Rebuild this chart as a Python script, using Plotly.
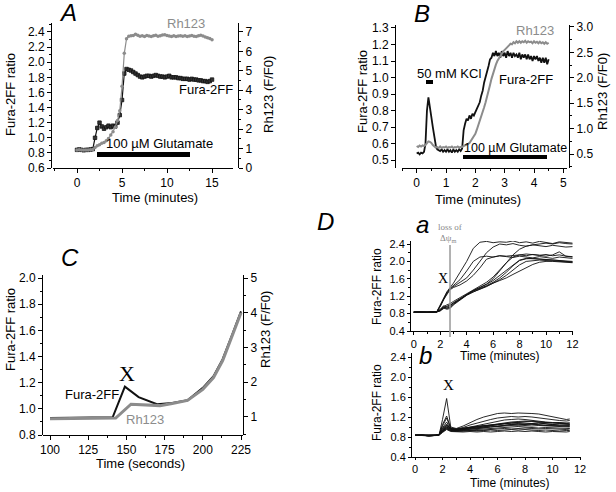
import plotly.graph_objects as go

W, H = 616, 492
def fx(p): return p / W
def fy(p): return 1 - p / H

# ---------------- Panel A data ----------------
A_t = [i * 0.25 for i in range(61)]
A_fura = [0.84, 0.845, 0.84, 0.835, 0.84, 0.84, 0.845, 0.85, 1.0, 1.13, 1.2, 1.15,
          1.12, 1.14, 1.16, 1.14, 1.16, 1.15, 1.2, 1.3, 1.5, 1.85, 1.91, 1.9,
          1.89, 1.87, 1.85, 1.83, 1.81, 1.8, 1.81, 1.82, 1.82, 1.81, 1.82, 1.83,
          1.82, 1.81, 1.81, 1.80, 1.81, 1.82, 1.80, 1.80, 1.80, 1.79, 1.79, 1.78,
          1.78, 1.78, 1.77, 1.78, 1.77, 1.77, 1.76, 1.76, 1.75, 1.75, 1.74, 1.75, 1.77]
A_rh = [0.93, 0.94, 0.93, 0.92, 0.93, 0.93, 0.94, 0.95, 1.05, 1.15, 1.2, 1.27,
        1.31, 1.4, 1.52, 1.7, 1.87, 2.1, 2.45, 2.95, 4.2, 5.9, 6.65, 6.78,
        6.8, 6.82, 6.88, 6.83, 6.78, 6.8, 6.77, 6.82, 6.79, 6.76, 6.8, 6.83,
        6.78, 6.8, 6.84, 6.86, 6.82, 6.79, 6.77, 6.8, 6.76, 6.79, 6.81, 6.78,
        6.8, 6.76, 6.79, 6.82, 6.78, 6.76, 6.8, 6.83, 6.79, 6.74, 6.7, 6.66, 6.6]

# ---------------- Panel B data ----------------
B_t = [round(i * 0.05, 2) for i in range(91)]
B_fura = [0.54, 0.545, 0.535, 0.545, 0.54, 0.55, 0.60, 0.80, 0.88, 0.83,
          0.76, 0.70, 0.64, 0.59, 0.565, 0.56, 0.555, 0.565, 0.55, 0.56,
          0.55, 0.565, 0.55, 0.56, 0.545, 0.565, 0.55, 0.56, 0.55, 0.565,
          0.555, 0.57, 0.68, 0.72, 0.75, 0.74, 0.77, 0.75, 0.78, 0.77,
          0.79, 0.80, 0.83, 0.85, 0.89, 0.92, 0.97, 1.00, 1.04, 1.07,
          1.11, 1.12, 1.15, 1.13, 1.16, 1.13, 1.15, 1.12, 1.16, 1.13,
          1.15, 1.12, 1.16, 1.13, 1.15, 1.12, 1.15, 1.13, 1.14, 1.12,
          1.15, 1.11, 1.14, 1.12, 1.14, 1.11, 1.14, 1.11, 1.13, 1.10,
          1.13, 1.11, 1.13, 1.10, 1.12, 1.09, 1.12, 1.09, 1.12, 1.08, 1.11]
B_rh = [0.66, 0.64, 0.67, 0.65, 0.67, 0.66, 0.68, 0.72, 0.75, 0.74,
        0.72, 0.68, 0.65, 0.63, 0.64, 0.62, 0.65, 0.62, 0.64, 0.63,
        0.65, 0.62, 0.64, 0.63, 0.65, 0.62, 0.64, 0.63, 0.65, 0.63,
        0.64, 0.64, 0.66, 0.67, 0.69, 0.70, 0.72, 0.76, 0.80, 0.85,
        0.90, 0.98, 1.06, 1.14, 1.23, 1.32, 1.42, 1.52, 1.62, 1.74,
        1.86, 1.98, 2.09, 2.17, 2.26, 2.33, 2.38, 2.43, 2.47, 2.52,
        2.55, 2.58, 2.62, 2.63, 2.67, 2.66, 2.70, 2.68, 2.72, 2.69,
        2.72, 2.69, 2.72, 2.70, 2.73, 2.69, 2.72, 2.70, 2.71, 2.68,
        2.72, 2.69, 2.71, 2.68, 2.71, 2.68, 2.70, 2.67, 2.70, 2.67, 2.69]

# ---------------- Panel C data ----------------
C_t_fura = [100, 141, 149, 158, 170, 180, 190, 200, 207, 213, 219, 225]
C_fura = [0.93, 0.935, 1.17, 1.09, 1.035, 1.045, 1.065, 1.16, 1.25, 1.38, 1.56, 1.745]
C_t_rh = [100, 143, 153, 172, 180, 190, 200, 207, 213, 219, 225]
C_rh = [0.94, 0.96, 1.36, 1.32, 1.38, 1.47, 1.79, 2.13, 2.62, 3.30, 4.0]

# ---------------- Panel D a data ----------------
Da_t = [0, 0.5, 1, 1.5, 1.75, 2, 2.25, 2.5, 2.75, 3, 3.5, 4, 4.5, 5, 5.5, 6, 6.5,
        7, 7.5, 8, 8.5, 9, 9.5, 10, 10.5, 11, 11.5, 12]
Da_traces = [
    [0.83,0.84,0.83,0.83,0.85,1.0,1.18,1.3,1.4,1.5,1.75,2.0,2.3,2.44,2.46,2.43,2.45,2.44,2.47,2.43,2.45,2.42,2.46,2.44,2.41,2.45,2.43,2.42],
    [0.83,0.83,0.84,0.83,0.84,0.98,1.15,1.28,1.38,1.45,1.58,1.78,2.0,2.1,2.12,2.1,2.13,2.11,2.09,2.12,2.1,2.08,2.11,2.09,2.07,2.1,2.08,2.07],
    [0.84,0.83,0.83,0.84,0.84,0.97,1.13,1.26,1.37,1.42,1.52,1.62,1.8,2.0,2.2,2.33,2.4,2.38,2.41,2.37,2.35,2.38,2.36,2.34,2.37,2.35,2.33,2.34],
    [0.83,0.84,0.83,0.83,0.85,0.96,1.12,1.25,1.35,1.4,1.46,1.55,1.68,1.85,2.05,2.1,2.13,2.12,2.14,2.15,2.13,2.16,2.14,2.12,2.15,2.22,2.12,2.1],
    [0.83,0.83,0.84,0.83,0.84,0.9,0.98,0.95,0.98,1.05,1.15,1.25,1.33,1.4,1.47,1.56,1.68,1.8,1.93,2.03,2.07,2.06,2.05,2.04,2.03,2.02,2.01,2.0],
    [0.84,0.83,0.83,0.84,0.84,0.88,0.95,0.93,0.94,1.02,1.14,1.24,1.32,1.38,1.44,1.52,1.62,1.75,1.9,2.02,2.06,2.07,2.06,2.04,2.03,2.02,2.0,1.99],
    [0.83,0.84,0.83,0.83,0.84,0.87,0.93,0.9,0.92,1.0,1.12,1.22,1.3,1.36,1.42,1.5,1.58,1.68,1.8,1.92,2.0,2.02,2.03,2.02,2.01,2.0,2.0,1.98],
    [0.83,0.83,0.84,0.83,0.84,0.86,0.92,0.97,1.0,1.04,1.13,1.23,1.3,1.37,1.43,1.5,1.56,1.62,1.7,1.78,1.86,1.93,1.98,2.0,2.0,1.99,1.98,1.97],
    [0.84,0.83,0.83,0.84,0.84,0.89,0.96,1.0,1.03,1.08,1.17,1.26,1.34,1.42,1.52,1.64,1.8,1.97,2.1,2.15,2.17,2.15,2.14,2.16,2.13,2.15,2.12,2.11],
    [0.83,0.84,0.83,0.83,0.84,0.87,0.94,0.92,0.95,1.02,1.13,1.24,1.33,1.4,1.48,1.6,1.78,1.98,2.15,2.28,2.35,2.38,2.4,2.42,2.4,2.43,2.41,2.4],
]

# ---------------- Panel D b data ----------------
Db_t = [0, 0.5, 1, 1.5, 1.75, 2, 2.3, 2.6, 3, 3.5, 4, 4.5, 5, 5.5, 6, 6.5, 7, 7.5,
        8, 8.5, 9, 9.5, 10, 10.5, 11, 11.25]
Db_traces = [
    [0.83,0.84,0.82,0.83,0.84,1.15,1.57,1.0,0.97,1.02,1.09,1.15,1.2,1.24,1.27,1.28,1.27,1.28,1.28,1.27,1.26,1.23,1.2,1.18,1.15,1.16],
    [0.83,0.83,0.83,0.83,0.85,1.05,1.22,0.98,0.96,0.99,1.04,1.08,1.12,1.15,1.18,1.2,1.21,1.2,1.21,1.2,1.18,1.17,1.15,1.13,1.12,1.13],
    [0.84,0.83,0.82,0.83,0.84,1.02,1.18,0.97,0.95,0.97,1.0,1.03,1.06,1.09,1.12,1.14,1.15,1.16,1.15,1.13,1.12,1.1,1.09,1.08,1.07,1.08],
    [0.83,0.84,0.83,0.84,0.84,0.98,1.1,0.96,0.94,0.96,0.98,1.0,1.03,1.05,1.07,1.09,1.1,1.11,1.12,1.11,1.1,1.08,1.07,1.06,1.05,1.06],
    [0.84,0.83,0.83,0.83,0.85,0.97,1.06,0.95,0.93,0.95,0.97,0.99,1.01,1.03,1.05,1.06,1.08,1.09,1.08,1.07,1.08,1.06,1.05,1.04,1.03,1.04],
    [0.83,0.83,0.82,0.83,0.84,0.95,1.04,0.97,0.96,0.98,1.0,1.02,1.03,1.04,1.06,1.07,1.06,1.07,1.06,1.05,1.04,1.03,1.02,1.01,1.0,1.01],
    [0.84,0.84,0.83,0.83,0.84,0.94,1.02,0.94,0.93,0.94,0.95,0.97,0.98,1.0,1.01,1.02,1.03,1.04,1.03,1.02,1.03,1.02,1.01,1.0,0.99,1.0],
    [0.83,0.83,0.83,0.84,0.84,0.93,1.0,0.95,0.94,0.95,0.96,0.97,0.99,1.0,1.02,1.04,1.05,1.06,1.05,1.06,1.04,1.03,1.04,1.03,1.02,1.03],
    [0.83,0.84,0.82,0.83,0.84,0.92,0.98,0.93,0.92,0.93,0.94,0.95,0.96,0.97,0.98,0.99,1.0,1.01,1.0,0.99,0.98,0.99,0.98,0.97,0.96,0.97],
    [0.84,0.83,0.83,0.83,0.84,0.91,0.97,0.92,0.91,0.92,0.92,0.93,0.94,0.95,0.96,0.97,0.96,0.97,0.98,0.97,0.96,0.97,0.96,0.95,0.95,0.96],
    [0.83,0.83,0.83,0.84,0.84,0.9,0.96,0.93,0.92,0.92,0.93,0.92,0.93,0.94,0.93,0.94,0.95,0.94,0.95,0.94,0.93,0.94,0.93,0.92,0.93,0.93],
    [0.83,0.84,0.82,0.83,0.84,0.89,0.95,0.91,0.9,0.9,0.91,0.9,0.91,0.9,0.91,0.92,0.91,0.92,0.91,0.92,0.91,0.9,0.91,0.9,0.9,0.91],
    [0.84,0.83,0.83,0.83,0.84,0.9,1.0,0.94,0.95,0.97,0.99,1.01,1.02,1.03,1.05,1.07,1.08,1.1,1.11,1.12,1.1,1.09,1.08,1.09,1.07,1.08],
    [0.83,0.83,0.83,0.84,0.84,0.92,1.03,0.96,0.94,0.96,0.99,0.98,1.0,1.02,1.01,1.03,1.05,1.04,1.06,1.07,1.08,1.06,1.05,1.07,1.06,1.05],
]

BLACK = "#111111"
GRAY = "#8c8c8c"
SANS = "Liberation Sans, Arial, sans-serif"
SERIF = "Liberation Serif, Times New Roman, serif"

fig = go.Figure()

# A
fig.add_trace(go.Scatter(x=A_t, y=A_rh, xaxis="x", yaxis="y2", mode="lines+markers",
                         line=dict(color=GRAY, width=1.2), marker=dict(color=GRAY, size=3.5, symbol="circle"),
                         showlegend=False))
fig.add_trace(go.Scatter(x=A_t, y=A_fura, xaxis="x", yaxis="y", mode="lines+markers",
                         line=dict(color=BLACK, width=1.2), marker=dict(color="#333", size=3.5, symbol="square",
                                                                       line=dict(color=BLACK, width=0.8)),
                         showlegend=False))
# B
fig.add_trace(go.Scatter(x=B_t, y=B_rh, xaxis="x2", yaxis="y4", mode="lines",
                         line=dict(color=GRAY, width=2), showlegend=False))
fig.add_trace(go.Scatter(x=B_t, y=B_fura, xaxis="x2", yaxis="y3", mode="lines",
                         line=dict(color=BLACK, width=1.8), showlegend=False))
# C
fig.add_trace(go.Scatter(x=C_t_rh, y=C_rh, xaxis="x3", yaxis="y6", mode="lines",
                         line=dict(color=GRAY, width=3), showlegend=False))
fig.add_trace(go.Scatter(x=C_t_fura, y=C_fura, xaxis="x3", yaxis="y5", mode="lines",
                         line=dict(color=BLACK, width=2), showlegend=False))
# D a
for tr in Da_traces:
    fig.add_trace(go.Scatter(x=Da_t, y=tr, xaxis="x4", yaxis="y7", mode="lines",
                             line=dict(color=BLACK, width=0.9), showlegend=False))
# D b
for tr in Db_traces:
    fig.add_trace(go.Scatter(x=Db_t, y=tr, xaxis="x5", yaxis="y8", mode="lines",
                             line=dict(color=BLACK, width=0.9), showlegend=False))

tickfont = dict(family=SANS, size=12, color="black")
tickfont_d = dict(family=SANS, size=11, color="black")

def ax(**kw):
    base = dict(showline=True, linecolor="black", linewidth=1, ticks="outside", ticklen=4,
                tickcolor="black", showgrid=False, zeroline=False, tickfont=tickfont)
    base.update(kw)
    return base

def minor(d, ln=2):
    return dict(ticks="outside", ticklen=ln, dtick=d, tickcolor="black", showgrid=False)

fig.update_layout(
    width=W, height=H, margin=dict(l=0, r=0, t=0, b=0, autoexpand=False),
    paper_bgcolor="white", plot_bgcolor="rgba(0,0,0,0)",
    # ---- A ----
    xaxis=ax(domain=[fx(53), fx(233)], range=[-2.67, 17.33], anchor="y", tick0=0, dtick=5, minor=minor(2.5)),
    yaxis=ax(domain=[fy(168), fy(23)], range=[0.6, 2.519], anchor="free", position=fx(51),
             tick0=0.6, dtick=0.2, tickformat=".1f", minor=minor(0.1)),
    yaxis2=ax(domain=[fy(168), fy(23)], range=[0, 7.46], anchor="free", position=fx(238), side="right",
              overlaying="y", tick0=0, dtick=1, minor=minor(0.5)),
    # ---- B ----
    xaxis2=ax(domain=[fx(402), fx(567)], range=[-0.501, 5.125], anchor="y3", tick0=0, dtick=1, minor=minor(0.5)),
    yaxis3=ax(domain=[fy(168), fy(25)], range=[0.452, 1.318], anchor="free", position=fx(395),
              tick0=0.5, dtick=0.1, tickformat=".1f"),
    yaxis4=ax(domain=[fy(168), fy(25)], range=[0.227, 3.039], anchor="free", position=fx(569), side="right",
              overlaying="y3", tick0=0.5, dtick=0.5, tickformat=".1f", minor=minor(0.25)),
    # ---- C ----
    xaxis3=ax(domain=[fx(43), fx(243)], range=[95.42, 226.3], anchor="y5", tick0=100, dtick=25, minor=minor(12.5)),
    yaxis5=ax(domain=[fy(435), fy(275)], range=[0.80, 2.023], anchor="free", position=fx(42),
              tick0=0.8, dtick=0.2, tickformat=".1f", minor=minor(0.1)),
    yaxis6=ax(domain=[fy(435), fy(275)], range=[0.472, 5.09], anchor="free", position=fx(243), side="right",
              overlaying="y5", tick0=1, dtick=1, minor=minor(0.5)),
    # ---- D a ----
    xaxis4=ax(domain=[fx(411), fx(573)], range=[-0.21, 12.04], anchor="y7", tick0=0, dtick=2,
              minor=minor(1), tickfont=tickfont_d, ticklen=3),
    yaxis7=ax(domain=[fy(331), fy(241)], range=[0.4, 2.469], anchor="x4", tick0=0.4, dtick=0.4,
              tickformat=".1f", minor=minor(0.2), tickfont=tickfont_d, ticklen=3),
    # ---- D b ----
    xaxis5=ax(domain=[fx(412), fx(581)], range=[-0.218, 12.07], anchor="y8", tick0=0, dtick=2,
              minor=minor(1), tickfont=tickfont_d, ticklen=2),
    yaxis8=ax(domain=[fy(457), fy(353)], range=[0.4, 2.48], anchor="x5", tick0=0.4, dtick=0.4,
              tickformat=".1f", minor=minor(0.2), tickfont=tickfont_d, ticklen=3),
)

ann = []
def text(x, y, s, size=13, color="black", family=SANS, angle=0):
    ann.append(dict(x=fx(x), y=fy(y), xref="paper", yref="paper", text=s, showarrow=False,
                    xanchor="center", yanchor="middle", textangle=angle,
                    font=dict(family=family, size=size, color=color)))

# Panel letters
text(68, 13, "<i>A</i>", 24)
text(422, 14, "<i>B</i>", 24)
text(70, 257, "<i>C</i>", 24)
text(325, 221, "<i>D</i>", 24)
text(422, 224, "<i>a</i>", 24)
text(425, 355, "<i>b</i>", 24)

# Axis titles
text(10, 95, "Fura-2FF ratio", 13, angle=-90)
text(268, 95, "Rh123 (F/F0)", 13, angle=-90)
text(155, 197, "Time (minutes)", 13)
text(362, 92, "Fura-2FF ratio", 13, angle=-90)
text(602, 92, "Rh123 (F/F0)", 13, angle=-90)
text(478, 199, "Time (minutes)", 13)
text(10, 330, "Fura-2FF ratio", 13, angle=-90)
text(265, 330, "Rh123 (F/F0)", 13, angle=-90)
text(140, 463, "Time (seconds)", 13)
text(377, 287, "Fura-2FF ratio", 12, angle=-90)
text(500, 356, "Time (minutes)", 12)
text(377, 403, "Fura-2FF ratio", 12, angle=-90)
text(510, 483, "Time (minutes)", 12)

# In-plot labels
text(186, 23, "Rh123", 13, color=GRAY)
text(206, 90, "Fura-2FF", 13)
text(160, 143, "100 \u00b5M Glutamate", 13)
text(535, 31, "Rh123", 13, color=GRAY)
text(526, 79, "Fura-2FF", 13)
text(449, 73, "50 mM KCl", 13)
text(515, 148, "100 \u00b5M Glutamate", 12.5)
text(127, 373, "X", 22, family=SERIF)
text(92, 394, "Fura-2FF", 13)
text(145, 419, "Rh123", 13, color=GRAY)
text(443, 278, "X", 14, family=SERIF)
text(448, 385, "X", 15, family=SERIF)
text(450, 227, "loss of", 9, color="#888888", family=SERIF)
text(448, 238, "\u0394\u03c8<sub>m</sub>", 9, color="#888888", family=SERIF)
fig.update_layout(annotations=ann)

# Bars and marker line
shapes = []
def rect(x0, x1, y0, y1):
    shapes.append(dict(type="rect", xref="paper", yref="paper", x0=fx(x0), x1=fx(x1),
                       y0=fy(y1), y1=fy(y0), fillcolor="black", line=dict(width=0)))
rect(97, 190, 152, 157)      # A glutamate bar
rect(426, 433, 80, 84)       # B KCl bar
rect(463, 547, 155, 159)     # B glutamate bar
shapes.append(dict(type="line", xref="x4", yref="paper", x0=2.74, x1=2.74, y0=fy(337), y1=fy(245),
                   line=dict(color="#999999", width=1.5)))
fig.update_layout(shapes=shapes)

fig.write_html("out.html", config={"displayModeBar": False},
               post_script="document.body.style.margin='0px';document.body.style.overflow='hidden';")
